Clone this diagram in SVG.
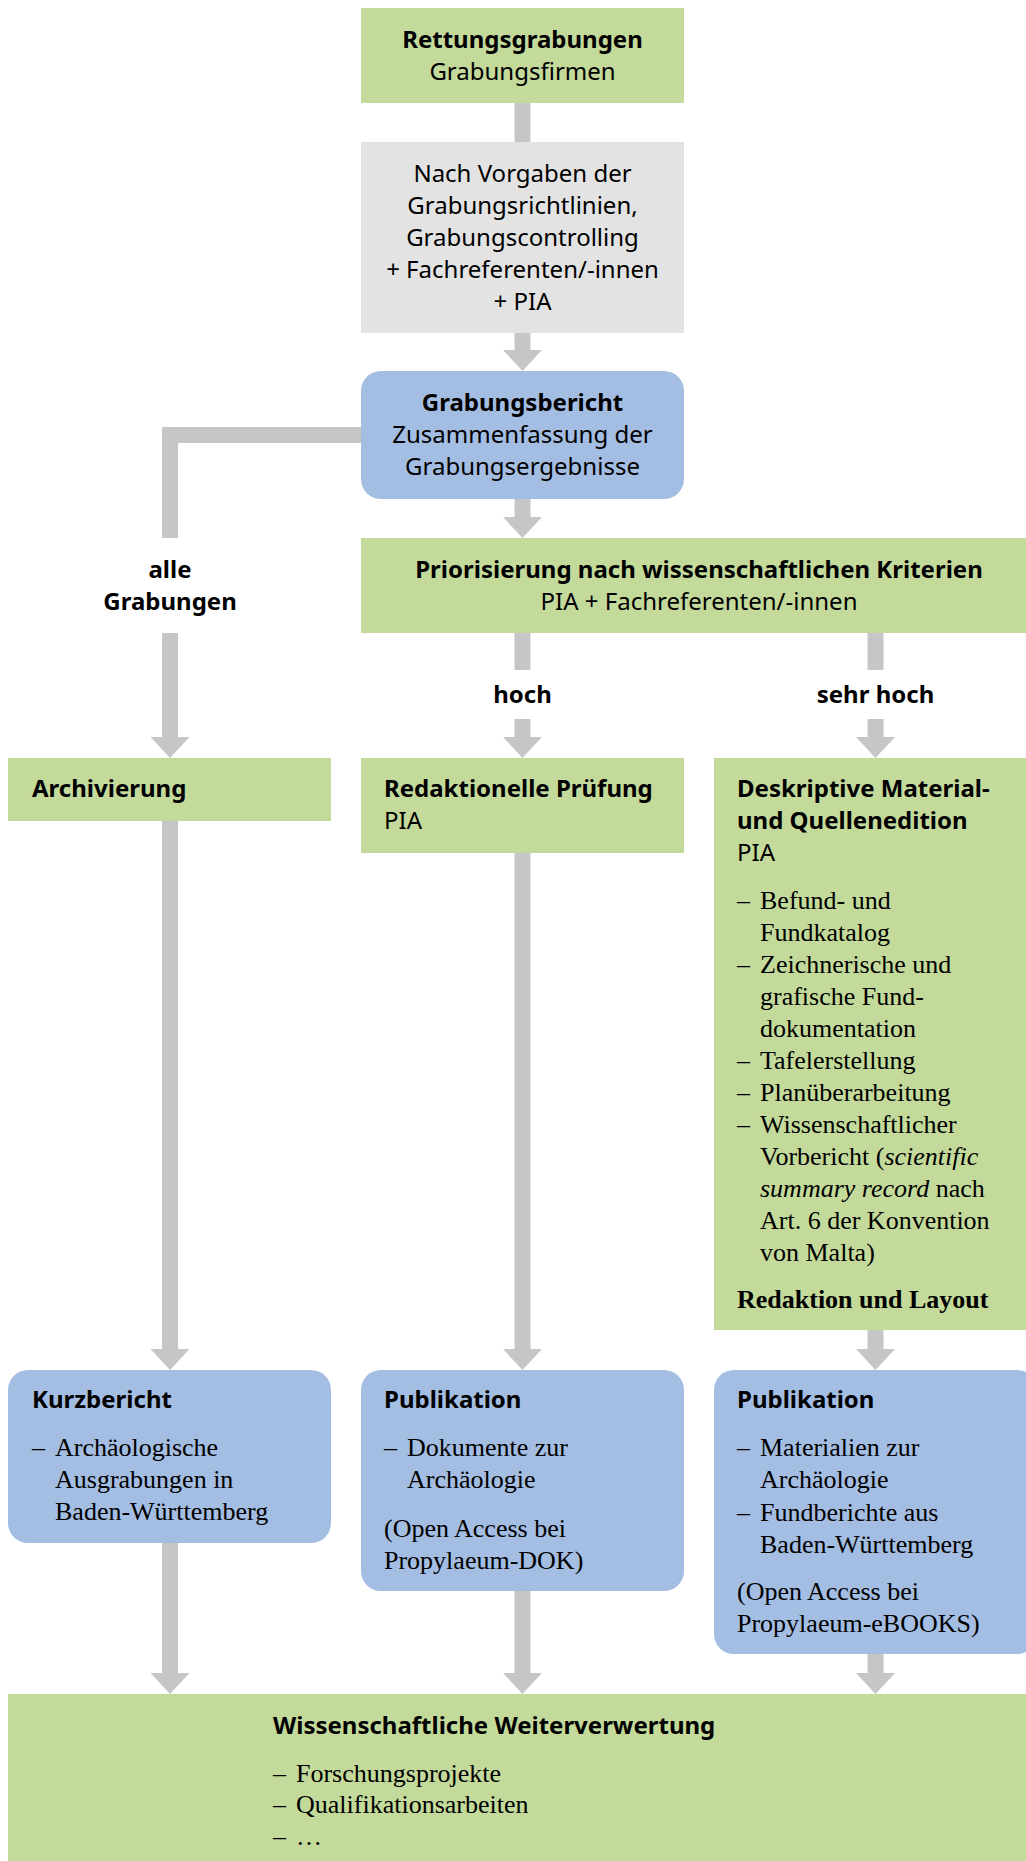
<svg xmlns="http://www.w3.org/2000/svg" width="1026" height="1861" viewBox="0 0 1026 1861">
<defs>
<style>
.green{fill:#c3da9b}
.grey{fill:#e3e3e3}
.blue{fill:#a4bde2}
.conn{stroke:#c6c6c6;stroke-width:16;fill:none;stroke-linejoin:miter}
.s{font-family:"Noto Sans","Open Sans","DejaVu Sans",sans-serif;font-size:24px;fill:#000}
.b{font-weight:bold}
.c{text-anchor:middle}
.r{font-family:"Liberation Serif","Times New Roman",serif;font-size:26px;fill:#000}
</style>
<marker id="ah" viewBox="0 0 21 39" refX="0" refY="19.5" markerWidth="21" markerHeight="39" markerUnits="userSpaceOnUse" orient="auto">
<path d="M0,0 L21,19.5 L0,39 Z" fill="#c6c6c6"/>
</marker>
</defs>
<rect width="1026" height="1861" fill="#ffffff"/>

<g id="connectors">
<line class="conn" x1="522.5" y1="103" x2="522.5" y2="142"/>
<line class="conn" x1="522.5" y1="333" x2="522.5" y2="350" marker-end="url(#ah)"/>
<path class="conn" d="M361,435 H170 V538"/>
<line class="conn" x1="170" y1="633" x2="170" y2="737" marker-end="url(#ah)"/>
<line class="conn" x1="522.5" y1="499" x2="522.5" y2="517" marker-end="url(#ah)"/>
<line class="conn" x1="522.5" y1="633" x2="522.5" y2="670"/>
<line class="conn" x1="522.5" y1="719" x2="522.5" y2="737" marker-end="url(#ah)"/>
<line class="conn" x1="875.5" y1="633" x2="875.5" y2="670"/>
<line class="conn" x1="875.5" y1="719" x2="875.5" y2="737" marker-end="url(#ah)"/>
<line class="conn" x1="170" y1="821" x2="170" y2="1349" marker-end="url(#ah)"/>
<line class="conn" x1="522.5" y1="853" x2="522.5" y2="1349" marker-end="url(#ah)"/>
<line class="conn" x1="875.5" y1="1330" x2="875.5" y2="1349" marker-end="url(#ah)"/>
<line class="conn" x1="170" y1="1543" x2="170" y2="1673" marker-end="url(#ah)"/>
<line class="conn" x1="522.5" y1="1591" x2="522.5" y2="1673" marker-end="url(#ah)"/>
<line class="conn" x1="875.5" y1="1654" x2="875.5" y2="1673" marker-end="url(#ah)"/>
</g>

<g id="rettungsgrabungen">
<rect class="green" x="361" y="8" width="323" height="95"/>
<text class="s b c" x="522.5" y="48">Rettungsgrabungen</text>
<text class="s c" x="522.5" y="80">Grabungsfirmen</text>
</g>

<g id="vorgaben">
<rect class="grey" x="361" y="142" width="323" height="191"/>
<text class="s c" x="522.5" y="182">Nach Vorgaben der</text>
<text class="s c" x="522.5" y="214">Grabungsrichtlinien,</text>
<text class="s c" x="522.5" y="246">Grabungscontrolling</text>
<text class="s c" x="522.5" y="278">+ Fachreferenten/-innen</text>
<text class="s c" x="522.5" y="310">+ PIA</text>
</g>

<g id="grabungsbericht">
<rect class="blue" x="361" y="371" width="323" height="128" rx="20" ry="20"/>
<text class="s b c" x="522.5" y="411">Grabungsbericht</text>
<text class="s c" x="522.5" y="443">Zusammenfassung der</text>
<text class="s c" x="522.5" y="475">Grabungsergebnisse</text>
</g>

<g id="label-alle">
<text class="s b c" x="170" y="578">alle</text>
<text class="s b c" x="170" y="610">Grabungen</text>
</g>

<g id="priorisierung">
<rect class="green" x="361" y="538" width="676" height="95"/>
<text class="s b c" x="699" y="578">Priorisierung nach wissenschaftlichen Kriterien</text>
<text class="s c" x="699" y="610">PIA + Fachreferenten/-innen</text>
</g>

<g id="label-hoch">
<text class="s b c" x="522.5" y="703">hoch</text>
</g>
<g id="label-sehr-hoch">
<text class="s b c" x="875.5" y="703">sehr hoch</text>
</g>

<g id="archivierung">
<rect class="green" x="8" y="758" width="323" height="63"/>
<text class="s b" x="32" y="797">Archivierung</text>
</g>

<g id="redaktionelle-pruefung">
<rect class="green" x="361" y="758" width="323" height="95"/>
<text class="s b" x="384" y="797">Redaktionelle Prüfung</text>
<text class="s" x="384" y="829">PIA</text>
</g>

<g id="deskriptive-edition">
<rect class="green" x="714" y="758" width="323" height="572"/>
<text class="s b" x="737" y="797">Deskriptive Material-</text>
<text class="s b" x="737" y="829">und Quellenedition</text>
<text class="s" x="737" y="861">PIA</text>
<text class="r" x="737" y="909">–</text>
<text class="r" x="760" y="909">Befund- und</text>
<text class="r" x="760" y="941">Fundkatalog</text>
<text class="r" x="737" y="973">–</text>
<text class="r" x="760" y="973">Zeichnerische und</text>
<text class="r" x="760" y="1005">grafische Fund-</text>
<text class="r" x="760" y="1037">dokumentation</text>
<text class="r" x="737" y="1069">–</text>
<text class="r" x="760" y="1069">Tafelerstellung</text>
<text class="r" x="737" y="1101">–</text>
<text class="r" x="760" y="1101">Planüberarbeitung</text>
<text class="r" x="737" y="1133">–</text>
<text class="r" x="760" y="1133">Wissenschaftlicher</text>
<text class="r" x="760" y="1165">Vorbericht (<tspan font-style="italic">scientific</tspan></text>
<text class="r" x="760" y="1197"><tspan font-style="italic">summary record</tspan> nach</text>
<text class="r" x="760" y="1229">Art. 6 der Konvention</text>
<text class="r" x="760" y="1261">von Malta)</text>
<text class="r b" x="737" y="1308">Redaktion und Layout</text>
</g>

<g id="kurzbericht">
<rect class="blue" x="8" y="1370" width="323" height="173" rx="20" ry="20"/>
<text class="s b" x="32" y="1408">Kurzbericht</text>
<text class="r" x="32" y="1456">–</text>
<text class="r" x="55" y="1456">Archäologische</text>
<text class="r" x="55" y="1488">Ausgrabungen in</text>
<text class="r" x="55" y="1520">Baden-Württemberg</text>
</g>

<g id="publikation-dokumente">
<rect class="blue" x="361" y="1370" width="323" height="221" rx="20" ry="20"/>
<text class="s b" x="384" y="1408">Publikation</text>
<text class="r" x="384" y="1456">–</text>
<text class="r" x="407" y="1456">Dokumente zur</text>
<text class="r" x="407" y="1488">Archäologie</text>
<text class="r" x="384" y="1537">(Open Access bei</text>
<text class="r" x="384" y="1569">Propylaeum-DOK)</text>
</g>

<g id="publikation-materialien">
<rect class="blue" x="714" y="1370" width="323" height="284" rx="20" ry="20"/>
<text class="s b" x="737" y="1408">Publikation</text>
<text class="r" x="737" y="1456">–</text>
<text class="r" x="760" y="1456">Materialien zur</text>
<text class="r" x="760" y="1488">Archäologie</text>
<text class="r" x="737" y="1521">–</text>
<text class="r" x="760" y="1521">Fundberichte aus</text>
<text class="r" x="760" y="1553">Baden-Württemberg</text>
<text class="r" x="737" y="1600">(Open Access bei</text>
<text class="r" x="737" y="1632">Propylaeum-eBOOKS)</text>
</g>

<g id="weiterverwertung">
<rect class="green" x="8" y="1694" width="1029" height="175"/>
<text class="s b" x="273" y="1734">Wissenschaftliche Weiterverwertung</text>
<text class="r" x="273" y="1782">–</text>
<text class="r" x="296" y="1782">Forschungsprojekte</text>
<text class="r" x="273" y="1813">–</text>
<text class="r" x="296" y="1813">Qualifikationsarbeiten</text>
<text class="r" x="273" y="1845">–</text>
<text class="r" x="296" y="1845">…</text>
</g>
</svg>
